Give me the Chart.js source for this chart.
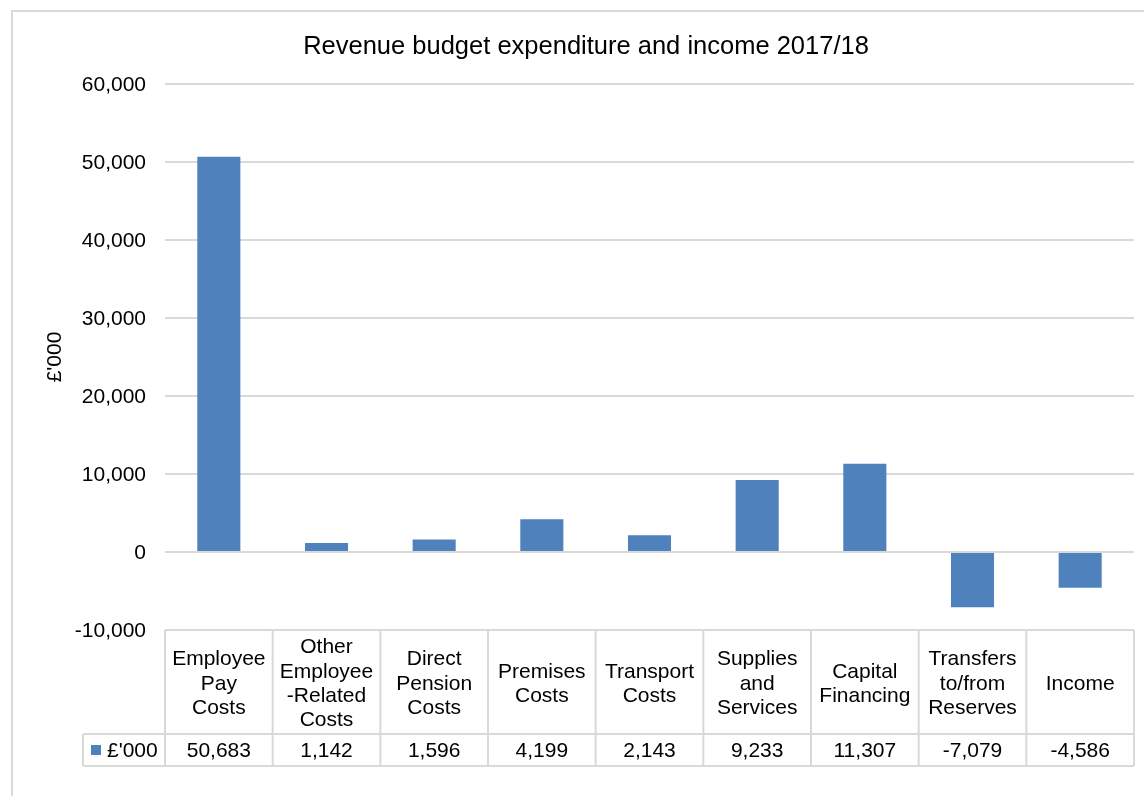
<!DOCTYPE html>
<html>
<head>
<meta charset="utf-8">
<title>Revenue budget expenditure and income 2017/18</title>
<script src="https://cdn.jsdelivr.net/npm/chart.js@4"></script>
<style>
    html, body { margin: 0; padding: 0; background: #fff; }
    canvas { display: block; }
</style>
</head>
<body>
<canvas id="chart" width="1144" height="796"></canvas>
<script>
const chartTitle = 'Revenue budget expenditure and income 2017/18'
const categories = [
    ['Employee', 'Pay', 'Costs'],
    ['Other', 'Employee', '-Related', 'Costs'],
    ['Direct', 'Pension', 'Costs'],
    ['Premises', 'Costs'],
    ['Transport', 'Costs'],
    ['Supplies', 'and', 'Services'],
    ['Capital', 'Financing'],
    ['Transfers', 'to/from', 'Reserves'],
    ['Income']
]
const seriesLabel  = "£'000"
const seriesValues = [50683, 1142, 1596, 4199, 2143, 9233, 11307, -7079, -4586]
const yTicks       = [-10000, 0, 10000, 20000, 30000, 40000, 50000, 60000]

const FONT      = '"Liberation Sans", Arial, sans-serif'
const BAR_COLOR = '#4f81bd'
const LINE      = '#d9d9d9'
const TEXT      = '#000'

const fmt = v => Number(v).toLocaleString('en-US')

// white background, outer frame and the heading
const framePlugin = {
    id: 'frame',
    beforeDraw(chart) {
        const ctx = chart.ctx
        ctx.save()
        ctx.fillStyle = '#fff'
        ctx.fillRect(0, 0, chart.width, chart.height)
        ctx.strokeStyle = LINE
        ctx.lineWidth   = 2
        ctx.strokeRect(12, 11, chart.width + 20, chart.height + 20)

        ctx.fillStyle    = TEXT
        ctx.font         = '25.5px ' + FONT
        ctx.textAlign    = 'center'
        ctx.textBaseline = 'middle'
        ctx.fillText(chartTitle, 586, 46.5)
        ctx.restore()
    }
}

// data table under the plot, columns follow the category scale
const dataTablePlugin = {
    id: 'dataTable',
    afterDraw(chart) {
        const ctx       = chart.ctx
        const xScale    = chart.scales.x
        const area      = chart.chartArea
        const headTop   = area.bottom
        const headBot   = headTop + 104
        const rowBot    = headBot + 32
        const keyLeft   = 83
        const n         = categories.length
        const edge      = i => xScale.getPixelForValue(i - 0.5)

        ctx.save()
        ctx.strokeStyle = LINE
        ctx.lineWidth   = 2

        ctx.beginPath()
        ctx.moveTo(edge(0), headTop)
        ctx.lineTo(edge(n), headTop)
        ctx.moveTo(keyLeft, headBot)
        ctx.lineTo(edge(n), headBot)
        ctx.moveTo(keyLeft, rowBot)
        ctx.lineTo(edge(n), rowBot)
        for (let i = 0; i <= n; i++) {
            ctx.moveTo(edge(i), headTop)
            ctx.lineTo(edge(i), rowBot)
        }
        ctx.moveTo(keyLeft, headBot)
        ctx.lineTo(keyLeft, rowBot)
        ctx.stroke()

        ctx.fillStyle    = TEXT
        ctx.font         = '21px ' + FONT
        ctx.textAlign    = 'center'
        ctx.textBaseline = 'middle'

        const lineGap = 24.4
        const headMid = (headTop + headBot) / 2 + 2
        const rowMid  = (headBot + rowBot) / 2 + 1

        categories.forEach((lines, i) => {
            const cx     = xScale.getPixelForValue(i)
            const startY = headMid - (lines.length - 1) * lineGap / 2
            lines.forEach((line, j) => ctx.fillText(line, cx, startY + j * lineGap))
            ctx.fillText(fmt(seriesValues[i]), cx, rowMid)
        })

        // legend key
        ctx.fillStyle = BAR_COLOR
        ctx.fillRect(keyLeft + 8, rowMid - 6, 10, 10)
        ctx.fillStyle = TEXT
        ctx.textAlign = 'left'
        ctx.fillText(seriesLabel, keyLeft + 24, rowMid)
        ctx.restore()
    }
}

window.addEventListener('DOMContentLoaded', function () {
    const chartCanvas = document.getElementById('chart')

    new Chart(chartCanvas, {
        type   : 'bar',
        data   : {
            labels  : categories.map(c => c.join(' ')),
            datasets: [
                {
                    label             : seriesLabel,
                    data              : seriesValues,
                    backgroundColor   : BAR_COLOR,
                    borderWidth       : 0,
                    barPercentage     : 0.4,
                    categoryPercentage: 1
                }
            ]
        },
        options: {
            responsive: false,
            animation : false,
            layout    : {
                padding: {left: 12, right: 10, top: 84, bottom: 166}
            },
            plugins   : {
                legend : {display: false},
                tooltip: {enabled: false},
                title  : {display: false}
            },
            scales: {
                x: {
                    display: false
                },
                y: {
                    min   : yTicks[0],
                    max   : yTicks[yTicks.length - 1],
                    border: {display: false},
                    grid  : {color: LINE, lineWidth: 2, drawTicks: false},
                    ticks : {
                        stepSize   : 10000,
                        padding    : 19,
                        labelOffset: 1.5,
                        color      : TEXT,
                        font       : {family: FONT, size: 21},
                        callback   : v => fmt(v)
                    },
                    afterBuildTicks: scale => {
                        scale.ticks = yTicks.map(value => ({value}))
                    },
                    afterFit: scale => {
                        scale.width = 153
                    },
                    title : {
                        display: true,
                        text   : seriesLabel,
                        color  : TEXT,
                        font   : {family: FONT, size: 21},
                        padding: {top: 31}
                    }
                }
            }
        },
        plugins: [framePlugin, dataTablePlugin]
    })
})
</script>
</body>
</html>
